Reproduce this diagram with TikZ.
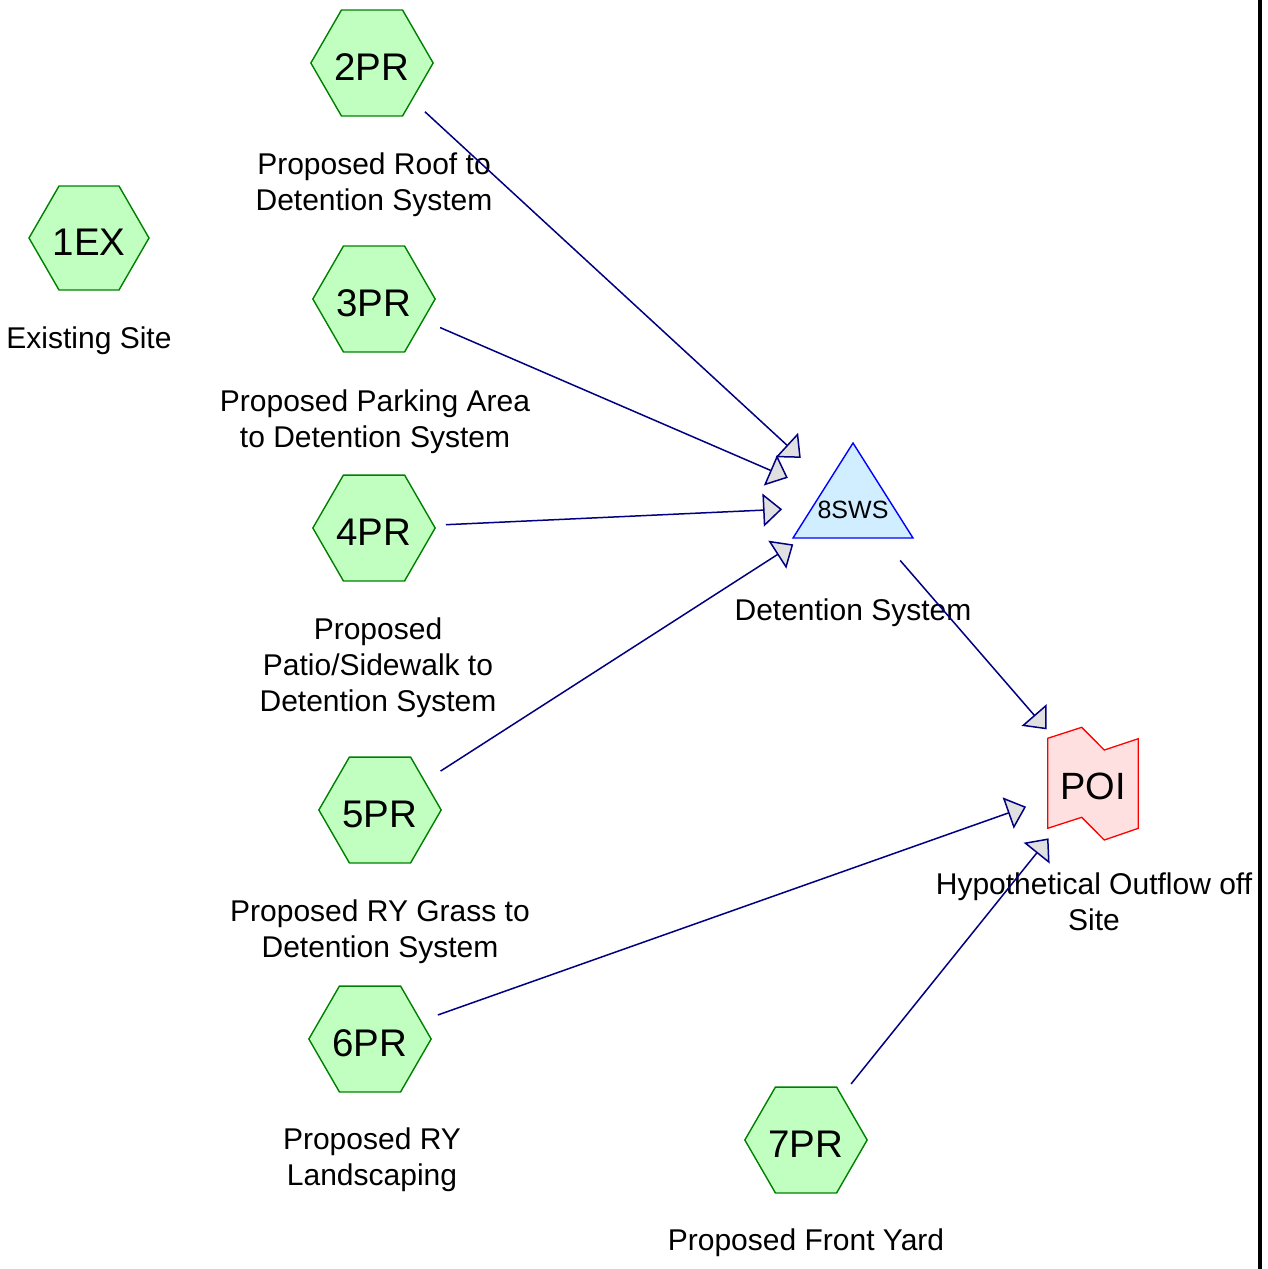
\documentclass[tikz,border=0pt]{standalone}
\usepackage{fontspec}
\setmainfont{Liberation Sans}
\usetikzlibrary{arrows.meta,shapes.geometric}
\definecolor{hexfill}{HTML}{C0FFC0}
\definecolor{hexdraw}{HTML}{008000}
\definecolor{trifill}{HTML}{D0EEFF}
\definecolor{tridraw}{HTML}{0000FF}
\definecolor{poifill}{HTML}{FFE0E0}
\definecolor{poidraw}{HTML}{FF0000}
\definecolor{navyline}{HTML}{000080}
\definecolor{tipfill}{HTML}{E0E0E0}
\begin{document}
\begin{tikzpicture}[x=1pt,y=-1pt,
 hexnode/.style={regular polygon, regular polygon sides=6, minimum size=120pt, inner sep=0pt, draw=hexdraw, fill=hexfill, line width=1.4pt, font=\fontsize{38.5}{40}\selectfont, text height=34pt, text depth=0pt},
 lbl/.style={align=center, font=\fontsize{30}{36}\selectfont, inner sep=0pt},
 flow/.style={draw=navyline, line width=1.5pt, shorten <=72pt, shorten >=71pt, -{Triangle[length=19pt,width=33pt,fill=tipfill]}},
]
\useasboundingbox (0,0) rectangle (1268,1269);
% right frame line
\draw[line width=4pt] (1260,0) -- (1260,1269);
% hexagon nodes
\node[hexnode] (n1EX) at (89,238) {1EX};
\node[hexnode] (n2PR) at (372,63) {2PR};
\node[hexnode] (n3PR) at (374,299) {3PR};
\node[hexnode] (n4PR) at (374,528) {4PR};
\node[hexnode] (n5PR) at (380,810) {5PR};
\node[hexnode] (n6PR) at (370,1039) {6PR};
\node[hexnode] (n7PR) at (806,1140) {7PR};
% triangle 8SWS
\draw[draw=tridraw, fill=trifill, line width=1.4pt, line join=miter] (853,443) -- (913,538) -- (793,538) -- cycle;
\coordinate (s8) at (853,506);
\node[font=\fontsize{25}{28}\selectfont, inner sep=0pt] (s8t) at (853,510) {8SWS};
% POI shape
\draw[draw=poidraw, fill=poifill, line width=1.3pt] (1047.7,738.3) -- (1081.7,727.3) -- (1104.3,750) -- (1138.3,738.7) -- (1138.3,828.3) -- (1104.3,840) -- (1081.7,817.3) -- (1047.7,828.3) -- cycle;
\node[font=\fontsize{38}{40}\selectfont, inner sep=0pt, text height=33.5pt, text depth=0pt] (poi) at (1093,783) {POI};
% labels
\node[lbl] (l1EX) at (89,341) {Existing Site};
\node[lbl] (l2PR) at (374,185) {Proposed Roof to\\Detention System};
\node[lbl] (l3PR) at (375,422) {Proposed Parking Area\\to Detention System};
\node[lbl] (l4PR) at (378,668) {Proposed\\Patio/Sidewalk to\\Detention System};
\node[lbl] (l5PR) at (380,932) {Proposed RY Grass to\\Detention System};
\node[lbl] (l6PR) at (372,1160) {Proposed RY\\Landscaping};
\node[lbl] (l7PR) at (806,1243) {Proposed Front Yard};
\node[lbl] (l8) at (853,613) {Detention System};
\node[lbl] (lpoi) at (1094,902) {Hypothetical Outflow off\\Site};
% connectors
\draw[flow] (n2PR.center) -- (s8);
\draw[flow] (n3PR.center) -- (s8);
\draw[flow] (n4PR.center) -- (s8);
\draw[flow] (n5PR.center) -- (s8);
\draw[flow] (s8) -- (poi.center);
\draw[flow] (n6PR.center) -- (poi.center);
\draw[flow] (n7PR.center) -- (poi.center);
\end{tikzpicture}
\end{document}
